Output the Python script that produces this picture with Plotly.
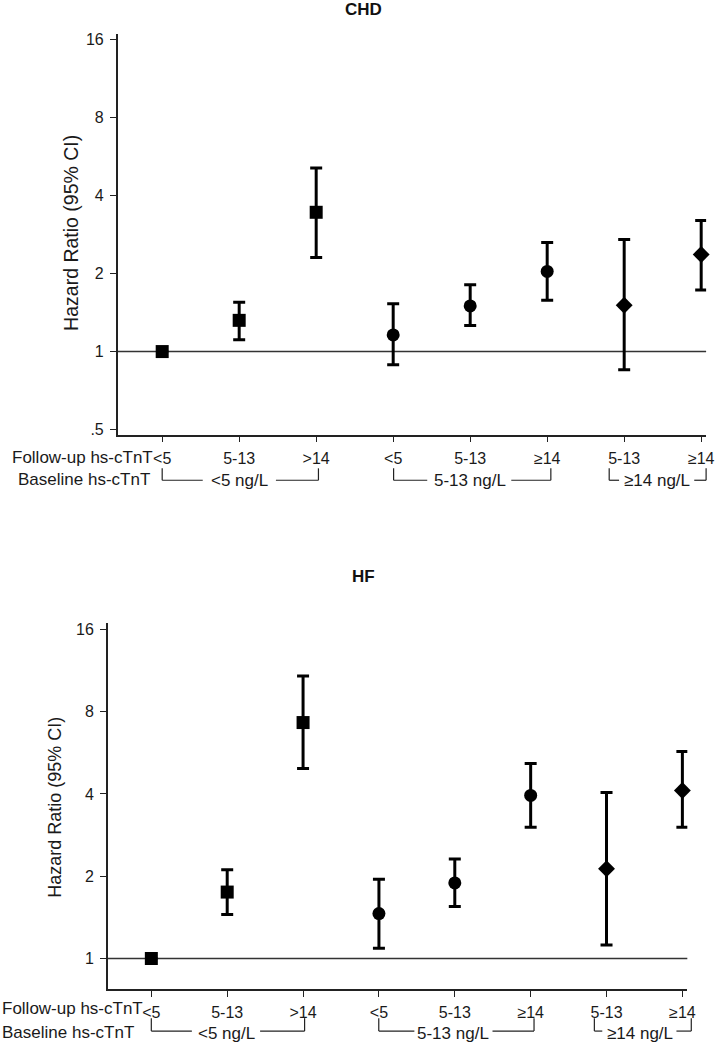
import plotly.graph_objects as go

W, H = 724, 1050

# ---------------- data ----------------
positions = [1, 2, 3, 4, 5, 6, 7, 8]
followup_labels = ["<5", "5-13", ">14", "<5", "5-13", "≥14", "5-13", "≥14"]
baseline_groups = ["<5 ng/L", "5-13 ng/L", "≥14 ng/L"]
group_members = [[0, 1, 2], [3, 4, 5], [6, 7]]
group_symbols = ["square", "circle", "diamond"]

chd_hr = [1.00, 1.32, 3.45, 1.16, 1.50, 2.04, 1.51, 2.37]
chd_lo = [1.00, 1.11, 2.31, 0.89, 1.26, 1.58, 0.85, 1.73]
chd_hi = [1.00, 1.55, 5.12, 1.53, 1.81, 2.64, 2.71, 3.21]

hf_hr = [1.00, 1.75, 7.30, 1.46, 1.89, 3.95, 2.13, 4.12]
hf_lo = [1.00, 1.45, 4.96, 1.09, 1.55, 3.02, 1.12, 3.02]
hf_hi = [1.00, 2.11, 10.8, 1.95, 2.31, 5.17, 4.05, 5.72]

ytick_vals = [0.5, 1, 2, 4, 8, 16]
ytick_text = [".5", "1", "2", "4", "8", "16"]

FONT = "Liberation Sans, Arial, sans-serif"
TXT = "#1a1a1a"


def px(x):
    return x / W


def py(y):
    return 1 - y / H


# bracket geometry in pixels: (left, gap_start, gap_end, right, text_center)
panels = [
    dict(title="CHD", hr=chd_hr, lo=chd_lo, hi=chd_hi,
         xdom=(119, 714), ydom=(32, 435), xr=(0.422, 8.064),
         yr_log2=(-1.064, 4.076), ytickvals=ytick_vals,
         title_y=8, ytitle_x=71, ytitle_y=232, ytitle_size=19.5,
         lab_x=156, lab_y=458, base_x=153, base_y=480,
         br_top=469, br_bot=481, br_text=481, xstand=3,
         brackets=[(164, 205, 279, 322, 242), (398, 432, 517, 557, 475),
                   (616, 626, 702, 714, 664)]),
    dict(title="HF", hr=hf_hr, lo=hf_lo, hi=hf_hi,
         xdom=(109, 695), ydom=(625, 993), xr=(0.426, 8.065),
         yr_log2=(-0.375, 4.073), ytickvals=ytick_vals[1:],
         title_y=578, ytitle_x=56, ytitle_y=810, ytitle_size=18,
         lab_x=146, lab_y=1012, base_x=137, base_y=1036,
         br_top=1022, br_bot=1035, br_text=1037, xstand=2,
         brackets=[(153, 194, 263, 308, 229), (383, 419, 498, 540, 458),
                   (601, 609, 684, 699, 647)]),
]

fig = go.Figure()
annotations = []
shapes = []


def seg(x0, y0, x1, y1, w=1.2):
    return dict(type="line", xref="paper", yref="paper",
                x0=px(x0), x1=px(x1), y0=py(y0), y1=py(y1),
                line=dict(color="#222", width=w))


for i, p in enumerate(panels):
    sfx = "" if i == 0 else str(i + 1)
    xa, ya = "x" + sfx, "y" + sfx
    for g, members in enumerate(group_members):
        xs = [positions[k] for k in members]
        ys = [p["hr"][k] for k in members]
        plus = [p["hi"][k] - p["hr"][k] for k in members]
        minus = [p["hr"][k] - p["lo"][k] for k in members]
        fig.add_trace(go.Scatter(
            x=xs, y=ys, mode="markers", xaxis=xa, yaxis=ya,
            marker=dict(symbol=group_symbols[g], size=13, color="black"),
            error_y=dict(type="data", symmetric=False, array=plus,
                         arrayminus=minus, color="black", thickness=3,
                         width=6),
            showlegend=False, cliponaxis=False, hoverinfo="skip",
        ))
    # reference line at HR = 1
    shapes.append(dict(type="line", xref=xa + " domain", yref=ya,
                       x0=0, x1=1, y0=1, y1=1,
                       line=dict(color="#333333", width=1.5), layer="below"))

    x0, x1 = p["xdom"]
    y0, y1 = p["ydom"]
    axkey = "xaxis" + sfx
    aykey = "yaxis" + sfx
    fig.update_layout(**{
        axkey: dict(domain=[px(x0), px(x1)], range=list(p["xr"]),
                    anchor=ya, tickmode="array", tickvals=positions,
                    ticktext=followup_labels, ticks="outside", ticklen=6,
                    tickwidth=1.2, tickcolor="#222", showline=True,
                    linecolor="#222", linewidth=1.5, showgrid=False,
                    zeroline=False, ticklabelstandoff=p["xstand"],
                    tickfont=dict(family=FONT, size=16, color=TXT)),
        aykey: dict(domain=[py(y1), py(y0)], type="log",
                    range=[v * 0.30103 for v in p["yr_log2"]],
                    anchor=xa, tickmode="array",
                    tickvals=p["ytickvals"],
                    ticktext=[ytick_text[ytick_vals.index(v)] for v in p["ytickvals"]],
                    ticks="outside", ticklen=6, tickwidth=1.2,
                    tickcolor="#222", showline=True, linecolor="#222",
                    linewidth=1.5, showgrid=False, zeroline=False,
                    ticklabelstandoff=3,
                    tickfont=dict(family=FONT, size=16, color=TXT)),
    })

    # panel title
    annotations.append(dict(text="<b>%s</b>" % p["title"], xref="paper",
                            yref="paper", x=px(368), y=py(p["title_y"]),
                            showarrow=False, xanchor="center",
                            yanchor="middle",
                            font=dict(family=FONT, size=17, color="#111")))
    # y-axis title
    annotations.append(dict(text="Hazard Ratio (95% CI)", xref="paper",
                            yref="paper", x=px(p["ytitle_x"]),
                            y=py(p["ytitle_y"]), textangle=-90,
                            showarrow=False, xanchor="center",
                            yanchor="middle",
                            font=dict(family=FONT, size=p["ytitle_size"],
                                      color=TXT)))
    # row labels
    annotations.append(dict(text="Follow-up hs-cTnT", xref="paper",
                            yref="paper", x=px(p["lab_x"]), y=py(p["lab_y"]),
                            showarrow=False, xanchor="right",
                            yanchor="middle", borderpad=0,
                            font=dict(family=FONT, size=17, color=TXT)))
    annotations.append(dict(text="Baseline hs-cTnT", xref="paper",
                            yref="paper", x=px(p["base_x"]),
                            y=py(p["base_y"]), showarrow=False,
                            xanchor="right", yanchor="middle", borderpad=0,
                            font=dict(family=FONT, size=17, color=TXT)))
    # brackets
    yt, yb = p["br_top"], p["br_bot"]
    for (bl, g0, g1, br, tc), gname in zip(p["brackets"], baseline_groups):
        shapes.append(seg(bl, yt, bl, yb))
        shapes.append(seg(br, yt, br, yb))
        shapes.append(seg(bl, yb, g0, yb))
        shapes.append(seg(g1, yb, br, yb))
        annotations.append(dict(text=gname, xref="paper", yref="paper",
                                x=px(tc), y=py(p["br_text"]),
                                showarrow=False, xanchor="center",
                                yanchor="middle", borderpad=0,
                                font=dict(family=FONT, size=17, color=TXT)))

fig.update_layout(width=W, height=H, margin=dict(l=0, r=0, t=0, b=0),
                  paper_bgcolor="white", plot_bgcolor="white",
                  showlegend=False, annotations=annotations, shapes=shapes)

fig.write_html("out.html", config={"displayModeBar": False},
               post_script="document.body.style.margin='0';"
                           "document.body.style.overflow='hidden';")
